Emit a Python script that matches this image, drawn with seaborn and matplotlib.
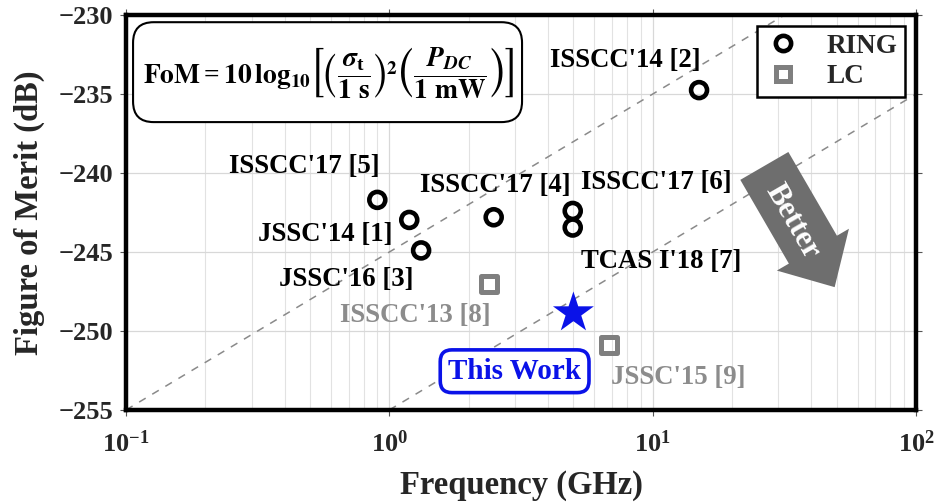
import numpy as np
import pandas as pd
import matplotlib
matplotlib.use("Agg")
import matplotlib.pyplot as plt
import seaborn as sns
from matplotlib.lines import Line2D
from matplotlib.patches import FancyBboxPatch

# ---------------- data ----------------
ring_labels = ["ISSCC'14 [2]", "ISSCC'17 [5]", "JSSC'14 [1]", "JSSC'16 [3]",
               "ISSCC'17 [4]", "ISSCC'17 [6]", "TCAS I'18 [7]"]
ring_freq = [15.0, 0.9, 1.19, 1.32, 2.49, 4.97, 4.97]
ring_fom = [-234.75, -241.7, -242.97, -244.9, -242.8, -242.4, -243.45]

lc_labels = ["ISSCC'13 [8]", "JSSC'15 [9]"]
lc_freq = [2.40, 6.8]
lc_fom = [-247.0, -250.9]

this_label = "This Work"
this_freq = [5.0]
this_fom = [-248.86]

# reference FoM lines (10 dB / decade)
ref1_freq = [0.1, 10 ** 1.5]
ref1_fom = [-255, -230]
ref2_freq = [1.0, 100.0]
ref2_fom = [-255, -235]

x_ticks = [0.1, 1, 10, 100]
y_ticks = [-255, -250, -245, -240, -235, -230]

# ---------------- style ----------------
sns.set_style("ticks")
serif = ["Liberation Serif", "DejaVu Serif"]
plt.rcParams["font.family"] = serif
plt.rcParams["font.weight"] = "bold"
plt.rcParams["mathtext.fontset"] = "custom"
plt.rcParams["mathtext.rm"] = "Liberation Serif:bold"
plt.rcParams["mathtext.bf"] = "Liberation Serif:bold"
plt.rcParams["mathtext.it"] = "Liberation Serif:italic:bold"
plt.rcParams["mathtext.default"] = "regular"
plt.rcParams["axes.unicode_minus"] = True

fig = plt.figure(figsize=(9.37, 5.03), dpi=100)
ax = fig.add_axes([0.1345, 0.185, 0.8431, 0.785])

ring_df = pd.DataFrame({"freq": ring_freq, "fom": ring_fom})
lc_df = pd.DataFrame({"freq": lc_freq, "fom": lc_fom})
tw_df = pd.DataFrame({"freq": this_freq, "fom": this_fom})
r1 = pd.DataFrame({"freq": ref1_freq, "fom": ref1_fom})
r2 = pd.DataFrame({"freq": ref2_freq, "fom": ref2_fom})

ax.set_xscale("log")
ax.set_xlim(0.1, 100)
ax.set_ylim(-255, -230)

# grid
ax.grid(True, which="major", axis="both", color="#d8d8d8", lw=0.9)
ax.grid(True, which="minor", axis="x", color="#e2e2e2", lw=0.8)
ax.set_axisbelow(True)

# reference lines
for r in (r1, r2):
    sns.lineplot(data=r, x="freq", y="fom", ax=ax, color="#8a8a8a",
                 lw=1.1, linestyle=(0, (5, 5)), zorder=2)

# markers
sns.scatterplot(data=ring_df, x="freq", y="fom", ax=ax, marker="o",
                s=11.5 ** 2, facecolor="none", edgecolor="black",
                linewidth=3.3, zorder=4)
sns.scatterplot(data=lc_df, x="freq", y="fom", ax=ax, marker="s",
                s=11.5 ** 2, facecolor="none", edgecolor="#7f7f7f",
                linewidth=3.6, zorder=4)
sns.scatterplot(data=tw_df, x="freq", y="fom", ax=ax, marker="*",
                s=31 ** 2, color="#0a12e8", edgecolor="none", zorder=5)

# annotation layout (text anchor positions, left aligned)
ring_text_pos = [(4.06, -232.85), (0.246, -239.56), (0.318, -243.92),
                 (0.382, -246.77), (1.31, -240.76), (5.32, -240.63),
                 (5.32, -245.63)]
lc_text_pos = [(0.652, -248.99), (6.92, -252.97)]
fs = 19.3
for lab, (tx, ty) in zip(ring_labels, ring_text_pos):
    ax.text(tx, ty, lab, ha="left", va="center", fontsize=fs,
            fontweight="bold", color="black", zorder=6)
for lab, (tx, ty) in zip(lc_labels, lc_text_pos):
    ax.text(tx, ty, lab, ha="left", va="center", fontsize=fs,
            fontweight="bold", color="#8c8c8c", zorder=6)

ax.text(2.99, -252.55, this_label, ha="center", va="center", fontsize=21,
        fontweight="bold", color="#0a12e8", zorder=6,
        bbox=dict(boxstyle="round,pad=0.27,rounding_size=0.4", fc="white",
                  ec="#0a12e8", lw=2.6))

# formula box
box = FancyBboxPatch((0.0089, 0.729), 0.4924, 0.253,
                     boxstyle="round,pad=0,rounding_size=0.026",
                     mutation_aspect=2.0, transform=ax.transAxes,
                     fc="white", ec="black", lw=1.5, zorder=7)
ax.add_patch(box)
formula = (r"$\mathbf{FoM} = \mathbf{10\,log}_{\mathbf{10}}\left[\left(\dfrac{\boldsymbol{\sigma}_{t}}{\mathbf{1\ s}}\right)^{\mathbf{2}}"
           r"\left(\dfrac{\boldsymbol{P}_{\boldsymbol{DC}}}{\mathbf{1\ mW}}\right)\right]$")
ax.text(0.256, 0.853, formula, transform=ax.transAxes, ha="center",
        va="center", fontsize=19.8, color="black", zorder=8,
        math_fontfamily="stix")

# "Better" arrow
ax.annotate("", xy=(0.897, 0.311), xytext=(0.808, 0.618),
            xycoords="axes fraction", textcoords="axes fraction",
            arrowprops=dict(arrowstyle="simple,head_width=1.5,head_length=0.78,tail_width=1.0",
                            mutation_scale=40, color="#6e6e6e", lw=0,
                            shrinkA=0, shrinkB=0), zorder=6)
ax.text(0.843, 0.478, "Better", transform=ax.transAxes, rotation=-60,
        rotation_mode="anchor", ha="center", va="center", fontsize=22,
        fontweight="bold", color="white", zorder=7)

# legend
handles = [Line2D([], [], marker="o", ls="", mfc="none", mec="black",
                  mew=3.3, ms=11, label="RING"),
           Line2D([], [], marker="s", ls="", mfc="none", mec="#7f7f7f",
                  mew=3.6, ms=10.5, label="LC")]
leg = ax.legend(handles=handles, loc="upper right", fancybox=False,
                framealpha=1, edgecolor="black", fontsize=19.5,
                borderaxespad=0.4, handletextpad=0.9, borderpad=0.28,
                labelspacing=0.22, handlelength=1.4)
leg.get_frame().set_linewidth(1.8)
for t in leg.get_texts():
    t.set_fontweight("bold")
leg.set_zorder(9)

# axes styling
for sp in ax.spines.values():
    sp.set_linewidth(3.2)
    sp.set_color("black")
ax.set_xticks(x_ticks)
ax.set_yticks(y_ticks)
ax.tick_params(axis="both", which="major", direction="out", length=4,
               width=0.8, color="#555555", labelsize=19, top=True, right=True)
ax.tick_params(axis="x", which="major", pad=11)
ax.tick_params(axis="y", which="major", pad=5)
ax.tick_params(axis="both", which="minor", length=0, top=True, right=True)
for lab in ax.get_yticklabels() + ax.get_xticklabels():
    lab.set_fontweight("bold")
ax.set_xlabel("Frequency (GHz)", fontsize=23.5, fontweight="bold", labelpad=9)
ax.set_ylabel("Figure of Merit (dB)", fontsize=23.5, fontweight="bold", labelpad=10)

fig.savefig("out.png", dpi=100)
